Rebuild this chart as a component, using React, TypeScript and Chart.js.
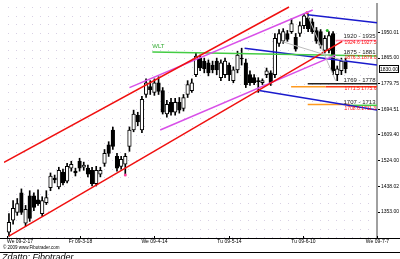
import React, { useEffect, useRef } from "react";
import { Chart, registerables } from "chart.js";

Chart.register(...registerables);

// ---- Candles (bar index 0..81), prices ----
const opens = [
  1286, 1326, 1352, 1417, 1316, 1407, 1407, 1394, 1348, 1384,
  1434, 1466, 1437, 1486, 1456, 1499, 1489, 1522, 1502, 1499,
  1492, 1447, 1479, 1515, 1577, 1626, 1538, 1505, 1512, 1571,
  1626, 1675, 1626, 1744, 1770, 1751, 1783, 1757, 1679, 1718,
  1685, 1718, 1698, 1744, 1757, 1810, 1865, 1855, 1849, 1842,
  1855, 1800, 1810, 1842, 1790, 1826, 1865, 1849, 1810, 1800,
  1790, 1783, 1810, 1816, 1810, 1914, 1921, 1947, 1953, 1934,
  1947, 1973, 1999, 1986, 1957, 1953, 1891, 1891, 1947, 1810,
  1823, 1855,
];
const highs = [
  1348, 1391, 1398, 1430, 1375, 1424, 1417, 1427, 1404, 1424,
  1483, 1476, 1502, 1496, 1515, 1522, 1499, 1532, 1519, 1509,
  1502, 1505, 1502, 1561, 1587, 1636, 1548, 1538, 1548, 1636,
  1692, 1685, 1738, 1796, 1790, 1796, 1803, 1767, 1725, 1731,
  1731, 1734, 1744, 1790, 1796, 1882, 1875, 1865, 1859, 1855,
  1865, 1859, 1865, 1849, 1836, 1888, 1898, 1862, 1823, 1810,
  1800, 1796, 1832, 1823, 1947, 1960, 1963, 1957, 1996, 1947,
  1986, 2012, 2012, 1996, 1967, 1960, 1940, 1953, 1953, 1839,
  1865, 1865,
];
const lows = [
  1273, 1313, 1342, 1345, 1306, 1322, 1358, 1375, 1339, 1378,
  1424, 1450, 1430, 1443, 1450, 1489, 1473, 1489, 1492, 1470,
  1440, 1440, 1470, 1505, 1538, 1561, 1489, 1496, 1479, 1555,
  1620, 1640, 1617, 1734, 1744, 1741, 1744, 1679, 1669, 1675,
  1675, 1682, 1689, 1734, 1751, 1803, 1823, 1816, 1806, 1816,
  1810, 1790, 1800, 1790, 1783, 1816, 1842, 1767, 1774, 1777,
  1751, 1777, 1800, 1774, 1800, 1904, 1914, 1921, 1947, 1888,
  1937, 1963, 1953, 1947, 1914, 1898, 1882, 1882, 1810, 1790,
  1810, 1816,
];
const closes = [
  1319, 1365, 1381, 1352, 1362, 1332, 1368, 1381, 1391, 1401,
  1473, 1460, 1492, 1450, 1505, 1512, 1483, 1499, 1509, 1479,
  1447, 1492, 1492, 1548, 1548, 1571, 1499, 1528, 1538, 1626,
  1679, 1653, 1728, 1783, 1760, 1783, 1754, 1685, 1711, 1685,
  1718, 1692, 1734, 1777, 1783, 1872, 1832, 1829, 1816, 1826,
  1826, 1849, 1855, 1810, 1826, 1875, 1862, 1777, 1783, 1783,
  1787, 1790, 1823, 1783, 1931, 1947, 1953, 1927, 1980, 1895,
  1973, 2006, 1963, 1953, 1921, 1908, 1931, 1940, 1823, 1829,
  1855, 1830,
];

// ---- Axes ----
const yTickValues = [1950.01, 1865.0, 1779.75, 1694.51, 1609.4, 1524.0, 1438.02, 1353.0];
const xTickValues = [-0.5, 17.1, 35, 52.9, 70.7, 88.57];
const xTickLabels = ["We 09-2-17", "Fr 09-3-18", "We 09-4-14", "Tu 09-5-14", "Tu 09-6-10", "We 09-7-7"];
const xRange = [-1.19, 88.57];
const yRange = [1266.7, 2045];

// ---- Trend lines: [bar index, price] end points ----
const redUpper = [[-1.19, 1518], [67.4, 2035]];
const redLower = [[0, 1273], [80.2, 1921]];
const violetUpper = [[29, 1767], [73.1, 2025]];
const violetLower = [[36.4, 1626], [78.6, 1875]];
const wltLine = [[34.5, 1885], [88.57, 1872]];
const blueTop = [[71.9, 2009], [88.57, 1983]];
const blueMid = [[56.7, 1898], [88.57, 1842]];
const blueLow = [[60.2, 1757], [88.57, 1692]];
const grayFan1 = [[71.9, 2006], [78.6, 1790]];
const grayFan2 = [[65.5, 1921], [81, 1855]];
const pinkZone = [[78.6, 1924], [88.57, 1924]];
const blackZone = [[71.9, 1780], [88.57, 1780]];
const orangeZone1 = [[67.9, 1770], [76.2, 1770]];
const redZone = [[76.2, 1770], [88.57, 1770]];
const orangeZone2 = [[71.9, 1711], [82.1, 1711]];
const greenZone = [[82.1, 1708], [88.57, 1708]];

// ---- Marker dots ----
const redDots = [[71.7, 2016]];
const greenDots = [[76.6, 1957]];
const pinkDots = [[28, 1476]];

// ---- Texts ----
const wltLabel = { text: "WLT", x: 34.5, y: 1904 };
const zoneLabels = ["1920 - 1935", "1875 - 1881", "1769 - 1778", "1707 - 1713"];
const zoneLabelPrices = [1937, 1885, 1790, 1718];
const zoneValueLabels = ["1924.6 1927.5", "1876.3 1879.0", "1771.5 1775.6", "1708.6 1711.3"];
const zoneValuePrices = [1917, 1865, 1764, 1698];
const zoneLabelX = 80.5;
const copyrightText = "© 2009 www.Fibotrader.com";
const captionText = "Zdatto: Fibotrader";

const FONT = '"Liberation Sans", Arial, sans-serif';

const overlay = {
  id: "overlay",
  beforeDatasetsDraw(chart: any) {
    const { ctx, chartArea: a, scales } = chart;
    const ys = scales.y;
    const step = (yTickValues[0] - yTickValues[1]) / 3;
    let v = yTickValues[0];
    while (v + step <= ys.max) v += step;
    ctx.save();
    ctx.fillStyle = "#d8d0e4";
    for (; v >= ys.min; v -= step) {
      const py = Math.round(ys.getPixelForValue(v));
      for (let px = a.left + 4; px < a.right - 1; px += 8) ctx.fillRect(px, py, 1, 1);
    }
    ctx.restore();
  },
  afterDatasetsDraw(chart: any) {
    const { ctx, chartArea: a, scales } = chart;
    const xs = scales.x;
    const ys = scales.y;
    ctx.save();
    ctx.textBaseline = "middle";
    ctx.textAlign = "left";

    // WLT
    ctx.font = `6px ${FONT}`;
    ctx.fillStyle = "#33aa33";
    ctx.fillText(wltLabel.text, xs.getPixelForValue(wltLabel.x), ys.getPixelForValue(wltLabel.y));

    // Fib zone labels
    const zx = xs.getPixelForValue(zoneLabelX);
    zoneLabels.forEach((t, i) => {
      ctx.font = `6px ${FONT}`;
      ctx.fillStyle = "#222222";
      ctx.fillText(t, zx, ys.getPixelForValue(zoneLabelPrices[i]));
      ctx.font = `5px ${FONT}`;
      ctx.fillStyle = "#ff1010";
      ctx.fillText(zoneValueLabels[i], zx + 1, ys.getPixelForValue(zoneValuePrices[i]));
    });

    // Last price box on axis
    const last = closes[closes.length - 1];
    const py = Math.round(ys.getPixelForValue(last));
    ctx.fillStyle = "#ffffff";
    ctx.fillRect(a.right + 2, py - 4, 20, 8);
    ctx.strokeStyle = "#000000";
    ctx.lineWidth = 1;
    ctx.strokeRect(a.right + 2.5, py - 3.5, 19, 7);
    ctx.fillStyle = "#000000";
    ctx.font = `5px ${FONT}`;
    ctx.textAlign = "center";
    ctx.fillText(last.toFixed(2), a.right + 12, py + 0.5);

    // X axis
    const w = chart.width;
    ctx.fillStyle = "#000000";
    ctx.fillRect(0, Math.round(a.bottom), w, 1);
    ctx.font = `5px ${FONT}`;
    xTickValues.forEach((tv, i) => {
      const px = Math.round(xs.getPixelForValue(tv));
      ctx.fillRect(px, Math.round(a.bottom) - 2, 1, 2);
      ctx.textAlign = i === 0 ? "left" : "center";
      ctx.fillText(xTickLabels[i], i === 0 ? px : px + 0.5, a.bottom + 4);
    });

    // Footer
    ctx.textAlign = "left";
    ctx.font = `4.5px ${FONT}`;
    ctx.fillText(copyrightText, 3, a.bottom + 10);
    ctx.fillRect(0, Math.round(a.bottom) + 14, w, 1);
    ctx.font = `italic 9px ${FONT}`;
    ctx.textBaseline = "top";
    ctx.fillText(captionText, 2, a.bottom + 15);
    ctx.restore();
  },
};

export default function App() {
  const ref = useRef<HTMLCanvasElement>(null);

  useEffect(() => {
    document.body.style.margin = "0";
    const canvas = ref.current;
    if (!canvas) return;

    const seg = (pts: number[][]) => pts.map(([x, y]) => ({ x, y }));
    const line = (pts: number[][], color: string, width: number) => ({
      type: "line",
      data: seg(pts),
      borderColor: color,
      borderWidth: width,
      pointRadius: 0,
      fill: false,
      tension: 0,
      order: 0,
    });
    const dots = (pts: number[][], color: string) => ({
      type: "line",
      data: seg(pts),
      showLine: false,
      pointRadius: 1.5,
      pointBorderWidth: 0,
      pointBackgroundColor: color,
      order: 0,
    });

    const bodyData = opens.map((o, i) => ({ x: i, y: [o, closes[i]] }));
    const wickData = opens.map((_, i) => ({ x: i, y: [lows[i], highs[i]] }));
    const bodyColors = opens.map((o, i) => (closes[i] >= o ? "#ffffff" : "#000000"));

    const chart = new Chart(canvas, {
      type: "bar",
      data: {
        datasets: [
          line(grayFan1, "#bdbdbd", 1),
          line(grayFan2, "#bdbdbd", 1),
          line(redUpper, "#f01010", 1.5),
          line(redLower, "#f01010", 1.5),
          line(violetUpper, "#d850e8", 1.5),
          line(violetLower, "#d850e8", 1.5),
          line(wltLine, "#44cc44", 1.5),
          line(blueTop, "#1a1acc", 1.5),
          line(blueMid, "#1a1acc", 1.5),
          line(blueLow, "#1a1acc", 1.5),
          line(pinkZone, "#ff8aa8", 1.5),
          line(blackZone, "#222222", 1.5),
          line(orangeZone1, "#ff9a20", 1.5),
          line(redZone, "#ff3a10", 1.5),
          line(orangeZone2, "#ff9a20", 1.5),
          line(greenZone, "#44cc44", 1.5),
          dots(redDots, "#ff2020"),
          dots(greenDots, "#22bb22"),
          dots(pinkDots, "#ff40a0"),
          {
            type: "bar",
            data: bodyData,
            backgroundColor: bodyColors,
            borderColor: "#000000",
            borderWidth: 1,
            borderSkipped: false,
            barThickness: 3.6,
            grouped: false,
            order: 1,
          },
          {
            type: "bar",
            data: wickData,
            backgroundColor: "#000000",
            borderWidth: 0,
            barThickness: 1,
            grouped: false,
            order: 2,
          },
        ] as any,
      },
      options: {
        responsive: false,
        animation: false,
        events: [],
        layout: { padding: { left: 0, right: 0, top: 0, bottom: 21 } },
        plugins: { legend: { display: false }, tooltip: { enabled: false } },
        scales: {
          x: {
            type: "linear",
            display: false,
            min: xRange[0],
            max: xRange[1],
            offset: false,
          },
          y: {
            type: "linear",
            position: "right",
            min: yRange[0],
            max: yRange[1],
            beginAtZero: false,
            afterBuildTicks: (scale: any) => {
              scale.ticks = yTickValues.map((v) => ({ value: v }));
            },
            afterFit: (scale: any) => {
              scale.width = 23;
              scale.paddingTop = 0;
              scale.paddingBottom = 0;
            },
            grid: {
              drawOnChartArea: false,
              drawTicks: true,
              tickLength: 3,
              tickColor: "#000000",
            },
            border: { display: true, color: "#a0a0a0", width: 2 },
            ticks: {
              padding: 1,
              color: "#000000",
              font: { size: 5, family: FONT },
              callback: (v: any) => Number(v).toFixed(2),
            },
          },
        },
      } as any,
      plugins: [overlay],
    });

    return () => chart.destroy();
  }, []);

  return (
    <canvas
      ref={ref}
      width={400}
      height={259}
      style={{ display: "block", width: 400, height: 259 }}
    />
  );
}
